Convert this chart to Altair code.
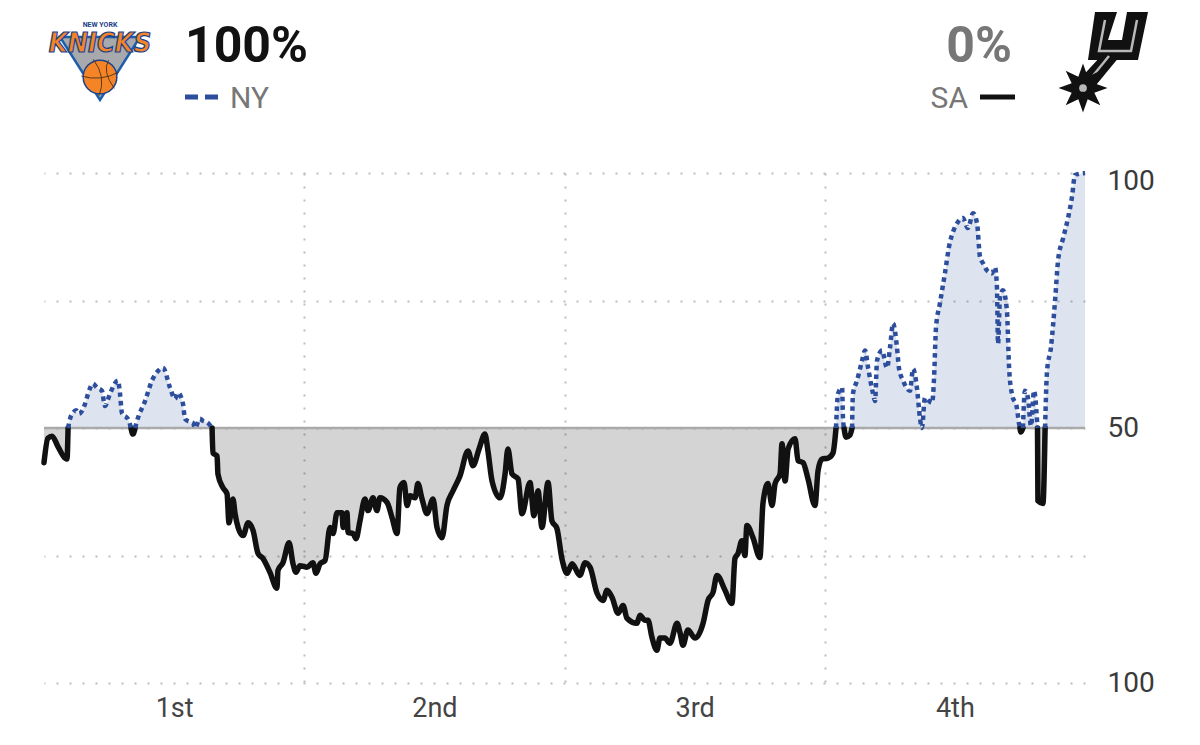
import math
import altair as alt
import pandas as pd

# ---------------- data (NY win probability, %, by game minute) ----------------
q1_minutes = [0.00, 0.18, 0.37, 0.65, 0.97, 1.06, 1.11, 1.20, 1.34, 1.48, 1.61, 1.75, 1.89, 2.03,
              2.26, 2.44, 2.67, 2.81, 3.04, 3.41, 3.50, 3.60, 3.87, 4.01, 4.10, 4.20, 4.29, 4.66,
              4.98, 5.26, 5.49, 5.81, 6.04, 6.18, 6.41, 6.50, 6.73, 6.87, 6.96, 7.19, 7.33, 7.56,
              7.75, 7.79, 7.98, 8.02, 8.25, 8.44, 8.53, 8.71, 8.81, 8.95, 9.18, 9.41, 9.64, 9.87,
              10.10, 10.42, 10.74, 10.79, 11.02, 11.30, 11.48, 11.62, 11.80]
q1_ny_prob = [43.2, 48.0, 48.4, 46.3, 44.1, 43.9, 50.0, 51.8, 53.0, 53.5, 52.8, 53.3, 54.7, 56.7,
              58.7, 57.9, 57.3, 54.3, 56.7, 59.3, 56.9, 52.8, 51.8, 50.0, 48.8, 50.0, 51.4, 55.3,
              59.3, 61.2, 61.8, 57.9, 55.7, 56.9, 54.7, 51.8, 51.2, 51.0, 50.0, 51.8, 51.4, 51.0,
              50.0, 45.1, 44.5, 41.0, 38.3, 37.1, 31.4, 36.1, 33.2, 30.5, 28.9, 31.4, 29.9, 25.4,
              24.4, 21.7, 18.6, 22.1, 23.6, 27.5, 23.4, 21.7, 23.0]

q2_minutes = [12.13, 12.40, 12.54, 12.73, 12.96, 13.19, 13.33, 13.51, 13.74, 13.79, 13.97, 14.02,
              14.25, 14.39, 14.57, 14.80, 14.94, 15.17, 15.35, 15.49, 15.82, 16.05, 16.28, 16.41,
              16.60, 16.74, 16.88, 17.11, 17.24, 17.43, 17.66, 17.94, 18.12, 18.35, 18.58, 18.86,
              19.18, 19.55, 19.78, 20.06, 20.33, 20.47, 20.66, 21.03, 21.26, 21.39, 21.58, 21.86,
              22.04, 22.41, 22.59, 22.78, 22.96, 23.24, 23.42, 23.65, 23.88]
q2_ny_prob = [22.7, 23.6, 21.5, 23.4, 24.0, 30.5, 29.3, 33.4, 33.4, 30.5, 33.4, 29.5,
              29.3, 28.3, 31.8, 36.1, 33.8, 36.3, 33.8, 36.3, 35.4, 32.4, 29.3, 38.3,
              39.3, 34.8, 36.7, 36.3, 39.1, 36.1, 33.2, 36.1, 30.5, 28.5, 34.8, 37.7,
              40.6, 45.5, 42.6, 45.9, 48.8, 45.5, 39.6, 36.3, 41.0, 45.9, 41.0, 40.0,
              33.2, 39.3, 32.8, 37.7, 30.5, 39.3, 31.8, 30.3, 24.4]

q3_minutes = [24.12, 24.35, 24.71, 24.95, 25.18, 25.50, 25.78, 25.96, 26.19, 26.47, 26.70, 26.88,
              27.34, 27.48, 27.71, 27.85, 28.03, 28.26, 28.40, 28.63, 28.86, 29.19, 29.33, 29.46,
              29.69, 30.02, 30.39, 30.62, 30.85, 31.03, 31.40, 31.72, 31.86, 32.00, 32.18, 32.32,
              32.41, 32.69, 33.01, 33.15, 33.38, 33.57, 33.71, 33.94, 34.03, 34.17, 34.31, 34.63,
              34.77, 35.00, 35.23, 35.55, 35.69, 35.87]
q3_ny_prob = [21.5, 23.4, 21.1, 23.6, 22.7, 17.6, 16.2, 18.2, 16.8, 13.7, 15.2, 12.7,
              11.7, 13.3, 12.3, 12.3, 9.0, 6.4, 8.8, 8.8, 7.8, 11.7, 9.8, 7.4,
              10.4, 8.8, 11.7, 16.2, 17.8, 21.1, 18.2, 15.6, 24.4, 25.4, 27.9, 25.0,
              30.9, 28.5, 24.6, 35.2, 39.1, 34.8, 39.1, 41.0, 46.9, 39.6, 45.9, 47.9,
              43.6, 43.2, 40.0, 34.8, 41.6, 43.9]

q4_minutes = [36.15, 36.38, 36.52, 36.56, 36.61, 36.80, 36.84, 36.89, 36.98, 37.16, 37.26, 37.30,
              37.49, 37.72, 37.86, 38.00, 38.23, 38.32, 38.41, 38.64, 38.87, 39.01, 39.15, 39.33,
              39.42, 39.61, 39.93, 40.07, 40.25, 40.39, 40.48, 40.62, 40.95, 41.04, 41.13, 41.31,
              41.54, 41.77, 41.91, 42.14, 42.37, 42.60, 42.84, 43.02, 43.16, 43.30, 43.48, 43.71,
              43.85, 43.94, 43.99, 44.08, 44.22, 44.40, 44.50, 44.63, 44.86, 44.96, 45.00, 45.05,
              45.14, 45.23, 45.37, 45.51, 45.65, 45.79, 45.81, 45.83, 46.06, 46.16, 46.25, 46.43,
              46.62, 46.76, 46.99, 47.22, 47.40, 47.54, 48.00]
q4_ny_prob = [44.1, 45.1, 50.0, 53.9, 56.7, 57.9, 52.0, 50.0, 48.2, 48.6, 50.0, 56.7,
              59.3, 63.2, 65.2, 61.8, 56.7, 55.3, 63.2, 65.2, 61.8, 65.8, 70.5, 65.8,
              61.8, 59.3, 57.3, 61.6, 57.9, 52.0, 50.0, 55.9, 54.9, 59.8, 69.7, 74.4,
              80.3, 86.4, 88.4, 90.4, 91.2, 89.2, 92.1, 90.2, 83.5, 82.3, 80.9, 80.3,
              81.5, 77.6, 66.5, 75.6, 77.0, 73.0, 61.8, 56.7, 53.9, 50.8, 50.0, 49.2,
              50.0, 57.3, 55.9, 50.4, 57.3, 51.4, 50.0, 35.7, 35.2, 50.0, 61.2, 65.8,
              75.0, 82.9, 87.2, 91.2, 95.3, 99.6, 100.0]

quarter_names = ["1st", "2nd", "3rd", "4th"]
quarter_centers = [6, 18, 30, 42]
quarter_edges = [12, 24, 36]
prob_ticks = [0, 25, 50, 75, 100]
prob_tick_labels = ["100", "", "50", "", "100"]
team_codes = ["NY", "SA"]
team_win_pct = ["100%", "0%"]

NY_BLUE = "#2c4e9c"
SA_BLACK = "#111111"
GRID = "#bdbdbd"

# ---------------- split the series into NY-leading / SA-leading runs ----------------
minutes = q1_minutes + q2_minutes + q3_minutes + q4_minutes
probs = q1_ny_prob + q2_ny_prob + q3_ny_prob + q4_ny_prob

rows = []
seg = 0
cur_side = None
pending = None
for i, (t, p) in enumerate(zip(minutes, probs)):
    if p == 50:
        rows.append(dict(t=t, p=p, seg=str(seg), side=cur_side, idx=i))
        pending = (t, i)
        continue
    side = "NY" if p > 50 else "SA"
    if cur_side is None:
        cur_side = side
    elif side != cur_side:
        seg += 1
        cur_side = side
        if pending is not None:
            rows.append(dict(t=pending[0], p=50.0, seg=str(seg), side=side, idx=pending[1]))
    rows.append(dict(t=t, p=p, seg=str(seg), side=side, idx=i))
    pending = None
df = pd.DataFrame(rows)

# ---------------- axes ----------------
x_label_expr = " : ".join(f"datum.value == {c} ? '{n}'" for c, n in zip(quarter_centers, quarter_names)) + " : ''"
y_label_expr = " : ".join(f"datum.value == {v} ? '{l}'" for v, l in zip(prob_ticks, prob_tick_labels)) + " : ''"
edge_test = "indexof([" + ",".join(str(e) for e in quarter_edges) + "], datum.value) >= 0"

x_enc = alt.X(
    "t:Q",
    scale=alt.Scale(domain=[0, 48], nice=False, zero=False),
    axis=alt.Axis(
        values=sorted(quarter_centers + quarter_edges),
        labelExpr=x_label_expr,
        grid=True,
        gridColor=GRID,
        gridWidth=2,
        gridDash=[2, 11],
        gridOpacity={"condition": {"test": edge_test, "value": 1}, "value": 0},
        ticks=False,
        domain=False,
        labelFont="Roboto",
        labelFontSize=27,
        labelColor="#444444",
        labelPadding=12,
        title=None,
    ),
)
y_enc = alt.Y(
    "p:Q",
    stack=None,
    scale=alt.Scale(domain=[0, 100], nice=False, zero=False),
    axis=alt.Axis(
        orient="right",
        values=prob_ticks,
        labelExpr=y_label_expr,
        grid=True,
        gridColor=GRID,
        gridWidth=2,
        gridDash=[2, 11],
        ticks=False,
        domain=False,
        labelFont="Roboto",
        labelFontSize=28,
        labelColor="#3a3a3a",
        labelAlign="left",
        labelBaseline="middle",
        labelPadding=22,
        labelOffset={"condition": {"test": "datum.value == 100", "value": 8}, "value": 0},
        title=None,
    ),
)

base = alt.Chart(df)

areas = base.mark_area(interpolate="monotone").encode(
    x=x_enc,
    y=y_enc,
    y2=alt.datum(50),
    color=alt.Color(
        "side:N",
        scale=alt.Scale(domain=team_codes, range=["rgba(44,78,156,0.16)", "rgba(0,0,0,0.17)"]),
        legend=None,
    ),
    detail="seg:N",
)

mid_rule = alt.Chart(pd.DataFrame({"p": [50]})).mark_rule(color="#aaaaaa", strokeWidth=2.5).encode(
    y=alt.Y("p:Q")
)

sa_line = base.transform_filter("datum.side == 'SA'").mark_line(
    color=SA_BLACK, strokeWidth=5.5, strokeJoin="round", strokeCap="round", interpolate="monotone"
).encode(x="t:Q", y=alt.Y("p:Q", stack=None), detail="seg:N", order="idx:Q")

ny_line = base.transform_filter("datum.side == 'NY'").mark_line(
    color=NY_BLUE, strokeWidth=4.5, strokeDash=[4.5, 4], interpolate="monotone"
).encode(x="t:Q", y=alt.Y("p:Q", stack=None), detail="seg:N", order="idx:Q")

# ---------------- header ----------------
header = pd.DataFrame({"team": team_codes, "pct": team_win_pct})
ny_h = alt.Chart(header).transform_filter("datum.team == 'NY'")
sa_h = alt.Chart(header).transform_filter("datum.team == 'SA'")

ny_pct = ny_h.mark_text(fontSize=50, fontWeight="bold", color="#121212", align="left", baseline="alphabetic").encode(
    text="pct:N", x=alt.value(141), y=alt.value(-111))
sa_pct = sa_h.mark_text(fontSize=50, fontWeight="bold", color="#777777", align="right", baseline="alphabetic").encode(
    text="pct:N", x=alt.value(968), y=alt.value(-111))
ny_code = ny_h.mark_text(fontSize=30, color="#777777", align="left", baseline="alphabetic").encode(
    text="team:N", x=alt.value(186), y=alt.value(-65))
sa_code = sa_h.mark_text(fontSize=30, color="#777777", align="right", baseline="alphabetic").encode(
    text="team:N", x=alt.value(924), y=alt.value(-65))
ny_key = ny_h.mark_rule(color=NY_BLUE, strokeWidth=5, strokeDash=[13, 7]).encode(
    x=alt.value(141), x2=alt.value(174), y=alt.value(-76))
sa_key = sa_h.mark_rule(color=SA_BLACK, strokeWidth=5).encode(
    x=alt.value(936), x2=alt.value(971), y=alt.value(-76))

# Knicks logo (approximation)
tri_path = "M-0.889,-0.511 L0.889,-0.511 L0,0.889 Z"
knx_tri = ny_h.mark_point(shape=tri_path, size=8100, filled=True, fill="#a7a9ac", stroke="#1d5eab",
                          strokeWidth=2.5, opacity=1).encode(x=alt.value(56), y=alt.value(-113))
knx_ball = ny_h.mark_point(shape="circle", size=1134, filled=True, fill="#f58426", stroke="#1d428a",
                           strokeWidth=1.5, opacity=1).encode(x=alt.value(56), y=alt.value(-96))
seam_path = "M-0.35,-0.93 Q0.35,0 -0.05,0.99 M-0.98,-0.05 Q0,0.25 0.98,-0.25 M0.45,-0.88 Q0.1,-0.3 0.75,0.6"
knx_seams = ny_h.mark_point(shape=seam_path, size=1444, filled=False, stroke="#5a3a1a",
                            strokeWidth=1, opacity=1).encode(x=alt.value(56), y=alt.value(-96))
knx_word = ny_h.mark_text(text="KNICKS", font="Liberation Sans Narrow, DejaVu Sans Condensed, Roboto",
                          fontSize=27, fontWeight="bold", fontStyle="italic", fill="#f58426",
                          stroke="#1d428a", strokeWidth=1.2, align="center", baseline="middle").encode(
    x=alt.value(56), y=alt.value(-129))
knx_ny = ny_h.mark_text(text="NEW YORK", fontSize=7, fontWeight="bold", color="#1d428a",
                        align="center", baseline="middle").encode(x=alt.value(56), y=alt.value(-148))

# Spurs logo (approximation)
def to_unit(pts, cx, cy, half):
    return " L".join(f"{(x - cx) / half:.3f},{(y - cy) / half:.3f}" for x, y in pts)

cx, cy, half = 1105, 57, 45
u_body = [(1095, 12), (1117, 12), (1108, 40), (1122, 40), (1127, 12), (1148, 12), (1138, 60), (1088, 60)]
stem = [(1101, 56), (1120, 56), (1092, 90), (1078, 81)]
spur_path = "M" + to_unit(u_body, cx, cy, half) + " Z M" + to_unit(stem, cx, cy, half) + " Z"
hi_u = [(1105, 20), (1099, 51), (1131, 51), (1137, 20)]
hi_stem = [(1109, 56), (1087, 83)]
spur_hi = "M" + to_unit(hi_u, cx, cy, half) + " M" + to_unit(hi_stem, cx, cy, half)
star_pts = []
for k in range(16):
    a = -math.pi / 2 + k * math.pi / 8
    r = 1.0 if k % 2 == 0 else 0.5
    star_pts.append(f"{r * math.cos(a):.3f},{r * math.sin(a):.3f}")
star_path = "M" + " L".join(star_pts) + " Z"

spur_body = sa_h.mark_point(shape=spur_path, size=8100, filled=True, fill="#111111", strokeWidth=0,
                            opacity=1).encode(x=alt.value(cx - 44), y=alt.value(cy - 173))
spur_high = sa_h.mark_point(shape=spur_hi, size=8100, filled=False, stroke="#b8b8b8", strokeWidth=2.5,
                            opacity=1).encode(x=alt.value(cx - 44), y=alt.value(cy - 173))
spur_star = sa_h.mark_point(shape=star_path, size=2400, filled=True, fill="#111111", strokeWidth=0,
                            opacity=1).encode(x=alt.value(1083 - 44), y=alt.value(88 - 173))
spur_dot = sa_h.mark_point(shape="circle", size=60, filled=True, fill="#b8b8b8", strokeWidth=0,
                           opacity=1).encode(x=alt.value(1083 - 44), y=alt.value(88 - 173))

chart = alt.layer(
    areas, mid_rule, sa_line, ny_line,
    ny_pct, sa_pct, ny_code, sa_code, ny_key, sa_key,
    knx_tri, knx_ball, knx_seams, knx_word, knx_ny,
    spur_body, spur_high, spur_star, spur_dot,
).properties(
    width=1041,
    height=510,
    padding={"left": 36, "top": 165, "right": 107, "bottom": 54},
    autosize="none",
    background="#ffffff",
).configure(font="Roboto", view=alt.ViewConfig(strokeWidth=0))

chart.save("out.html", embed_options={"renderer": "svg", "actions": False})
